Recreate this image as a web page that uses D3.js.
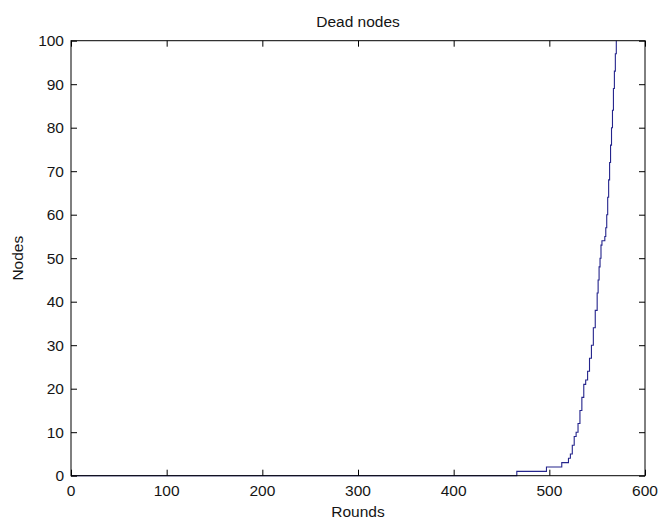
<!DOCTYPE html>
<html><head><meta charset="utf-8">
<script src="https://cdn.jsdelivr.net/npm/d3@7"></script>
<style>body{margin:0;background:#fff}svg text{font-family:"Liberation Sans",Arial,sans-serif;fill:#151515}</style>
</head><body><svg id="c" width="659" height="521"></svg>
<script>
const rounds = [0, 466, 497, 513, 520, 522, 524, 526, 528, 530, 532, 534, 536, 538, 540, 542, 544, 546, 548, 550, 551, 552, 553, 554, 555, 558, 559, 560, 561, 562, 563, 564, 565, 566, 567, 568, 569, 570];
const dead   = [0, 1,   2,   3,   4,   5,   7,   9,   10,  12,  15,  18,  21,  22,  24,  27,  30,  34,  38,  42,  45,  48,  50,  53,  54,  55,  57,  60,  64,  68,  72,  76,  80,  84,  89,  93,  97,  100];
const xTicks = [0, 100, 200, 300, 400, 500, 600];
const yTicks = [0, 10, 20, 30, 40, 50, 60, 70, 80, 90, 100];
const titleText = "Dead nodes", xLabel = "Rounds", yLabel = "Nodes";

const L = 71, R = 645, T = 40.7, B = 475.7;
const svg = d3.select("#c");
const x = d3.scaleLinear().domain([0, 600]).range([L, R]);
const y = d3.scaleLinear().domain([0, 100]).range([B, T]);
const fs = 15.5;

const data = rounds.map((r, i) => [r, dead[i]]);
svg.append("path").datum(data)
  .attr("fill", "none").attr("stroke", "#24248c").attr("stroke-width", 1.1)
  .attr("d", d3.line().x(d => x(d[0])).y(d => y(d[1])).curve(d3.curveStepAfter));

// axes
const ax = (g, axis) => { g.call(axis); g.select(".domain").remove(); g.selectAll("line").attr("stroke", "#000"); };
svg.append("g").attr("transform", `translate(0,${B})`).call(g => ax(g, d3.axisTop(x).tickValues(xTicks).tickSize(6).tickFormat("")));
svg.append("g").attr("transform", `translate(0,${T})`).call(g => ax(g, d3.axisBottom(x).tickValues(xTicks).tickSize(6).tickFormat("")));
svg.append("g").attr("transform", `translate(${L},0)`).call(g => ax(g, d3.axisRight(y).tickValues(yTicks).tickSize(6).tickFormat("")));
svg.append("g").attr("transform", `translate(${R},0)`).call(g => ax(g, d3.axisLeft(y).tickValues(yTicks).tickSize(6).tickFormat("")));

svg.append("rect").attr("x", L).attr("y", T).attr("width", R - L).attr("height", B - T)
  .attr("fill", "none").attr("stroke", "#000").attr("stroke-width", 1);

// tick labels
svg.append("g").selectAll("text").data(xTicks).join("text")
  .attr("x", d => x(d)).attr("y", 496).attr("text-anchor", "middle").attr("font-size", fs).text(d => d);
svg.append("g").selectAll("text").data(yTicks).join("text")
  .attr("x", L - 7).attr("y", d => y(d) + 5.5).attr("text-anchor", "end").attr("font-size", fs).text(d => d);

svg.append("text").attr("x", (L + R) / 2).attr("y", 27).attr("text-anchor", "middle").attr("font-size", fs).text(titleText);
svg.append("text").attr("x", (L + R) / 2).attr("y", 517).attr("text-anchor", "middle").attr("font-size", fs).text(xLabel);
svg.append("text").attr("transform", `translate(23,${(T + B) / 2}) rotate(-90)`).attr("text-anchor", "middle").attr("font-size", fs).text(yLabel);
</script></body></html>
